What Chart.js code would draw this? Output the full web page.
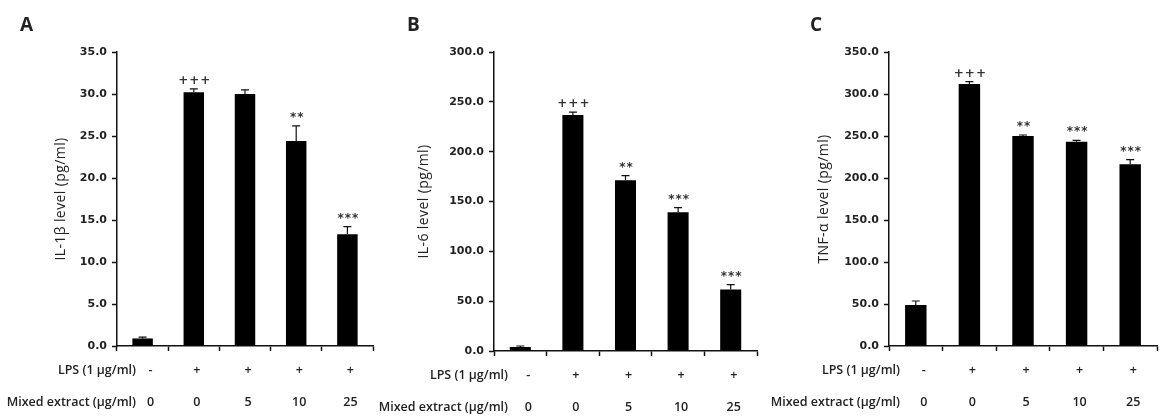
<!DOCTYPE html>
<html>
<head>
<meta charset="utf-8">
<script src="https://cdn.jsdelivr.net/npm/chart.js@4.4.1/dist/chart.umd.min.js"></script>
<style>
body { margin: 0; background: #fff; }
#wrap { position: relative; width: 1166px; height: 417px; overflow: hidden; }
canvas { position: absolute; top: 0; }
</style>
</head>
<body>
<div id="wrap">
  <canvas id="chartA" width="390" height="417" style="left:0px"></canvas>
  <canvas id="chartB" width="430" height="417" style="left:350px"></canvas>
  <canvas id="chartC" width="426" height="417" style="left:740px"></canvas>
</div>
<script>
// treatment groups (shared by all three panels)
let lps = ["-", "+", "+", "+", "+"];
let extract = ["0", "0", "5", "10", "25"];

// A - IL-1b
let il1bMean = [0.9, 30.2, 30.0, 24.4, 13.3];
let il1bErr = [0.15, 0.4, 0.5, 1.8, 0.9];
let il1bSig = ["", "+++", "", "**", "***"];

// B - IL-6
let il6Mean = [4.0, 236.7, 171.4, 139.3, 61.6];
let il6Err = [1.0, 3.0, 4.5, 4.5, 5.0];
let il6Sig = ["", "+++", "**", "***", "***"];

// C - TNF-a
let tnfMean = [48.8, 311.9, 250.0, 243.3, 216.3];
let tnfErr = [4.8, 2.8, 1.2, 1.5, 5.5];
let tnfSig = ["", "+++", "**", "***", "***"];

const FONT = "'Open Sans', 'DejaVu Sans', sans-serif";
const TICKFONT = "'DejaVu Sans', sans-serif";
const INK = "#111";

// error bars, significance marks, group rows, panel letter and y title
let panelPlugin = {
    id: "panel",
    afterDatasetsDraw(chart, args, opts) {
        let ctx = chart.ctx, x = chart.scales.x, y = chart.scales.y;
        ctx.save();
        ctx.strokeStyle = INK;
        ctx.lineWidth = 1.2;
        opts.mean.forEach((v, i) => {
            let px = x.getPixelForValue(i);
            let base = y.getPixelForValue(v);
            let top = y.getPixelForValue(v + opts.err[i]);
            ctx.beginPath();
            ctx.moveTo(px, base);
            ctx.lineTo(px, top);
            ctx.moveTo(px - 4, top);
            ctx.lineTo(px + 4, top);
            ctx.stroke();
            if (opts.sig[i]) {
                ctx.fillStyle = "#333";
                ctx.font = "bold 12px " + TICKFONT;
                ctx.letterSpacing = "1px";
                ctx.textAlign = "center";
                ctx.textBaseline = "bottom";
                ctx.fillText(opts.sig[i], px + 1, top - 2);
                ctx.letterSpacing = "0px";
            }
        });
        ctx.restore();
    },
    afterDraw(chart, args, opts) {
        let ctx = chart.ctx, x = chart.scales.x, area = chart.chartArea;
        ctx.save();
        ctx.fillStyle = "#222";
        ctx.font = "600 12.5px " + FONT;
        ctx.textBaseline = "middle";
        let row1 = area.bottom + 24, row2 = area.bottom + 56;
        ctx.textAlign = "right";
        ctx.fillText("LPS (1 \u03bcg/ml)", opts.rowLabelX, row1);
        ctx.fillText("Mixed extract (\u03bcg/ml)", opts.rowLabelX, row2);
        ctx.textAlign = "center";
        lps.forEach((s, i) => ctx.fillText(s, x.getPixelForValue(i) + (i === 0 ? 8 : 3), row1));
        extract.forEach((s, i) => ctx.fillText(s, x.getPixelForValue(i) + (i === 0 ? 8 : 3), row2));

        ctx.font = "bold 19px " + FONT;
        ctx.textAlign = "left";
        ctx.fillText(opts.letter, opts.letterX, 26);

        ctx.font = "14px " + FONT;
        ctx.letterSpacing = "0.4px";
        ctx.translate(opts.titleX, (area.top + area.bottom) / 2);
        ctx.rotate(-Math.PI / 2);
        ctx.textAlign = "center";
        ctx.fillText(opts.title, 0, 0);
        ctx.restore();
    }
};

function makePanel(id, p) {
    let canvas = document.getElementById(id);
    let W = canvas.width, H = canvas.height;
    return new Chart(id, {
        type: "bar",
        data: {
            labels: extract,
            datasets: [{
                data: p.mean,
                backgroundColor: "#000",
                barPercentage: 0.4,
                categoryPercentage: 1.0
            }]
        },
        options: {
            responsive: false,
            animation: false,
            devicePixelRatio: 1,
            layout: { padding: { top: p.top, right: W - p.right, left: 0, bottom: 0 } },
            scales: {
                x: {
                    grid: { offset: true, drawOnChartArea: false, tickLength: 5, color: INK, tickColor: INK, tickWidth: 1.5 },
                    border: { display: true, color: INK, width: 1.5 },
                    ticks: { display: false },
                    afterFit: s => { s.height = H - p.bottom; }
                },
                y: {
                    min: 0,
                    max: p.max,
                    grid: { drawOnChartArea: false, tickLength: 5, tickColor: INK, tickWidth: 1.5 },
                    border: { display: true, color: INK, width: 1.5 },
                    ticks: {
                        stepSize: p.step,
                        padding: 5,
                        color: "#222",
                        font: { family: TICKFONT, size: 11, weight: "bold" },
                        callback: v => v.toFixed(1)
                    },
                    afterFit: s => { s.width = p.left; }
                }
            },
            plugins: {
                legend: { display: false },
                tooltip: { enabled: false },
                panel: {
                    mean: p.mean, err: p.err, sig: p.sig,
                    letter: p.letter, letterX: p.letterX,
                    title: p.title, titleX: p.titleX,
                    rowLabelX: p.rowLabelX
                }
            }
        },
        plugins: [panelPlugin]
    });
}

makePanel("chartA", {
    mean: il1bMean, err: il1bErr, sig: il1bSig, max: 35, step: 5,
    left: 117, right: 373, top: 52, bottom: 346,
    letter: "A", letterX: 20, title: "IL-1\u03b2 level (pg/ml)", titleX: 61, rowLabelX: 136
});
makePanel("chartB", {
    mean: il6Mean, err: il6Err, sig: il6Sig, max: 300, step: 50,
    left: 144, right: 407, top: 52, bottom: 351,
    letter: "B", letterX: 57, title: "IL-6 level (pg/ml)", titleX: 74, rowLabelX: 158
});
makePanel("chartC", {
    mean: tnfMean, err: tnfErr, sig: tnfSig, max: 350, step: 50,
    left: 149, right: 417, top: 52, bottom: 346,
    letter: "C", letterX: 70, title: "TNF-\u03b1 level (pg/ml)", titleX: 84, rowLabelX: 160
});
</script>
</body>
</html>
